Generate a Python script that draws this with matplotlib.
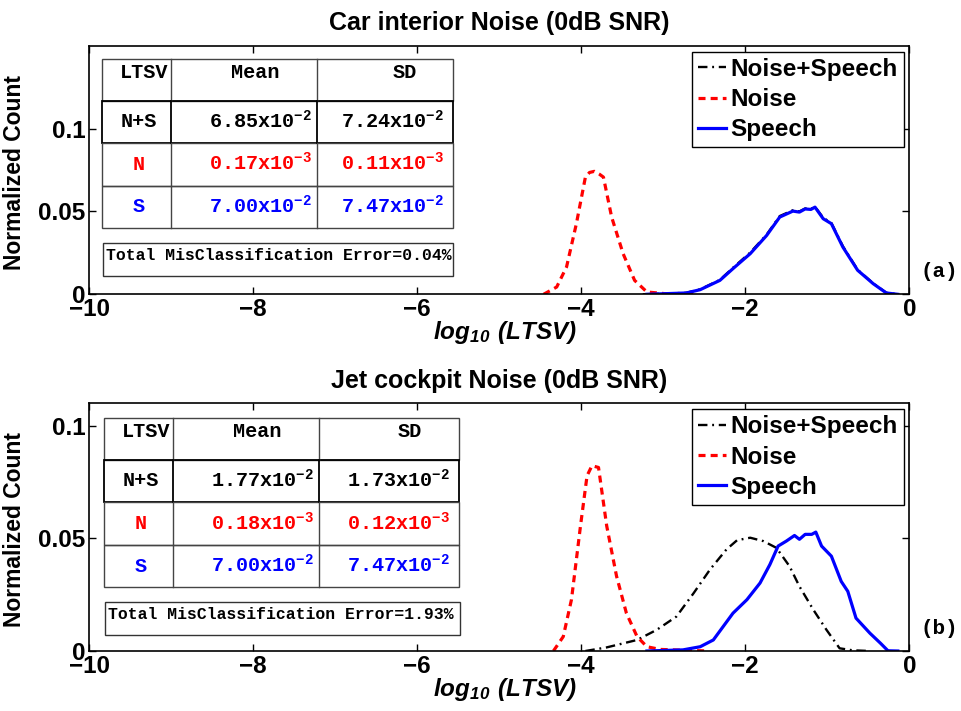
import matplotlib
matplotlib.use('Agg')
import matplotlib.pyplot as plt
from matplotlib.patches import Rectangle

plt.rcParams['font.family'] = 'Liberation Sans'
plt.rcParams['font.weight'] = 'bold'
plt.rcParams['mathtext.fontset'] = 'custom'
plt.rcParams['mathtext.rm'] = 'Liberation Mono:bold'
plt.rcParams['mathtext.sf'] = 'Liberation Sans:italic:bold'
plt.rcParams['mathtext.bf'] = 'Liberation Sans:bold'

# ---- data ----
# (a) car interior noise
car_noise_x = [-4.46, -4.30, -4.18, -4.06, -3.95, -3.90, -3.84, -3.78, -3.73, -3.63, -3.49, -3.35, -3.20, -2.96, -2.58]
car_noise_y = [0, 0.0044, 0.0165, 0.0426, 0.0707, 0.0735, 0.0742, 0.0725, 0.0707, 0.0466, 0.0245, 0.0084, 0.0014, 0.0003, 0]
car_speech_x = [-3.20, -2.72, -2.55, -2.31, -2.15, -1.94, -1.74, -1.58, -1.42, -1.34, -1.27, -1.20, -1.15, -1.05, -0.95, -0.81, -0.63, -0.44, -0.28, -0.14]
car_speech_y = [0, 0.0008, 0.0028, 0.0084, 0.0155, 0.0245, 0.0355, 0.0466, 0.0502, 0.0496, 0.0515, 0.0512, 0.0526, 0.0456, 0.0426, 0.0285, 0.0145, 0.0064, 0.0008, 0]
car_ns_x = [-3.25, -2.72, -2.55, -2.31, -2.15, -1.94, -1.74, -1.58, -1.42, -1.34, -1.27, -1.20, -1.15, -1.05, -0.95, -0.81, -0.63, -0.44, -0.28, -0.14]
car_ns_y = [0, 0.0009, 0.0030, 0.0087, 0.0160, 0.0252, 0.0360, 0.0472, 0.0507, 0.0500, 0.0518, 0.0515, 0.0528, 0.0462, 0.0430, 0.0290, 0.0148, 0.0066, 0.0009, 0]

# (b) jet cockpit noise
jet_noise_x = [-4.34, -4.22, -4.12, -4.01, -3.93, -3.87, -3.79, -3.69, -3.57, -3.45, -3.32, -3.20, -3.04, -2.72, -2.45]
jet_noise_y = [0, 0.0064, 0.0228, 0.0555, 0.0778, 0.0823, 0.0815, 0.0555, 0.0332, 0.0168, 0.0064, 0.0019, 0.0007, 0.0003, 0]
jet_ns_x = [-3.95, -3.69, -3.32, -3.08, -2.84, -2.63, -2.43, -2.23, -2.10, -1.94, -1.78, -1.62, -1.46, -1.34, -1.17, -1.01, -0.85, -0.69, -0.48]
jet_ns_y = [0, 0.0016, 0.0049, 0.0094, 0.0153, 0.0257, 0.0362, 0.0451, 0.0492, 0.0503, 0.0488, 0.0458, 0.0376, 0.0287, 0.0183, 0.0094, 0.0012, 0.0003, 0]
jet_speech_x = [-3.20, -2.76, -2.55, -2.39, -2.15, -1.98, -1.82, -1.70, -1.60, -1.50, -1.40, -1.34, -1.27, -1.19, -1.14, -1.07, -0.95, -0.83, -0.75, -0.65, -0.48, -0.35, -0.26, -0.14]
jet_speech_y = [0, 0.0005, 0.0019, 0.0049, 0.0168, 0.0228, 0.0302, 0.0384, 0.0466, 0.0488, 0.0513, 0.0496, 0.0518, 0.0518, 0.0528, 0.0466, 0.0421, 0.0309, 0.0265, 0.0146, 0.0079, 0.0034, 0.0001, 0]

titles = ['Car interior Noise (0dB SNR)', 'Jet cockpit Noise (0dB SNR)']
panel_tags = ['(a)', '(b)']
ylims = [0.15, 0.11]
row_names = ['N+S', 'N', 'S']
row_colors = ['black', 'red', 'blue']
car_table = [['6.85', '-2', '7.24', '-2'], ['0.17', '-3', '0.11', '-3'], ['7.00', '-2', '7.47', '-2']]
jet_table = [['1.77', '-2', '1.73', '-2'], ['0.18', '-3', '0.12', '-3'], ['7.00', '-2', '7.47', '-2']]
errors = ['Total MisClassification Error=0.04%', 'Total MisClassification Error=1.93%']

W, H = 962, 711
fig = plt.figure(figsize=(W / 100, H / 100), dpi=100)


def P(x, y):
    return (x / W, 1 - y / H)


def draw_table(x0, x1, c1, c2, rows_y, err_box, values, err_text):
    mono = 'Liberation Mono'
    # header + 3 rows, each its own box
    for i in range(4):
        ya, yb = rows_y[i], rows_y[i + 1]
        ec = 'black' if i == 1 else '#444444'
        lw = 1.3 if i == 1 else 1.0
        fig.add_artist(Rectangle(P(x0, yb), (x1 - x0) / W, (yb - ya) / H,
                                 transform=fig.transFigure, fill=False, ec=ec, lw=lw))
        for cx in (c1, c2):
            fig.add_artist(plt.Line2D([cx / W, cx / W], [1 - ya / H, 1 - yb / H],
                                      transform=fig.transFigure, color=ec, lw=lw))
    hy = rows_y[0] + 14
    fig.text(*P(c1 - 3, hy), 'LTSV', ha='right', va='center', family=mono, fontsize=14.5, weight='bold')
    fig.text(*P((c1 + c2) / 2 + 11, hy), 'Mean', ha='center', va='center', family=mono, fontsize=14.5, weight='bold')
    fig.text(*P((c2 + x1) / 2 + 20, hy), 'SD', ha='center', va='center', family=mono, fontsize=14.5, weight='bold')
    for i in range(3):
        ry = (rows_y[i + 1] + rows_y[i + 2]) / 2
        col = row_colors[i]
        fig.text(*P((x0 + c1) / 2 + 2, ry), row_names[i], ha='center', va='center', family=mono,
                 fontsize=14.5, weight='bold', color=col)
        m, me, s, se = values[i]
        fig.text(*P(c2 - 5, ry - 1), r'$\mathrm{%sx10^{%s}}$' % (m, me),
                 ha='right', va='center', fontsize=14.5, color=col)
        fig.text(*P(x1 - 9, ry - 1), r'$\mathrm{%sx10^{%s}}$' % (s, se),
                 ha='right', va='center', fontsize=14.5, color=col)
    ex0, ex1, ey0, ey1 = err_box
    fig.add_artist(Rectangle(P(ex0, ey1), (ex1 - ex0) / W, (ey1 - ey0) / H,
                             transform=fig.transFigure, fill=False, ec='#333333', lw=1.0))
    fig.text(*P(ex0 + 3, ey0 + 12), err_text, ha='left', va='center', family=mono,
             fontsize=11.8, weight='bold')


axes_px = [(45.7, 294.3), (403.3, 651.0)]
tables = [
    (101.7, 452.7, 171, 317.3, [59, 101, 142.7, 185.7, 227.7], (102.7, 453.3, 243.3, 276), car_table),
    (104, 459.3, 173.3, 319.3, [417.7, 460, 502, 545, 587.3], (105, 460, 602.3, 635), jet_table),
]
series = [
    ((car_ns_x, car_ns_y), (car_noise_x, car_noise_y), (car_speech_x, car_speech_y)),
    ((jet_ns_x, jet_ns_y), (jet_noise_x, jet_noise_y), (jet_speech_x, jet_speech_y)),
]

for k in range(2):
    top, bot = axes_px[k]
    ax = fig.add_axes([89.3 / W, 1 - bot / H, 820 / W, (bot - top) / H])
    ns, nz, sp = series[k]
    ax.plot(ns[0], ns[1], color='black', ls='-.', lw=1.7, dashes=(4, 2, 0.8, 2), label='Noise+Speech')
    ax.plot(nz[0], nz[1], color='red', ls='--', lw=2.3, dashes=(2.2, 1.6), label='Noise')
    ax.plot(sp[0], sp[1], color='blue', ls='-', lw=2.3, label='Speech')
    ax.set_xlim(-10, 0)
    ax.set_ylim(0, ylims[k])
    ax.set_xticks([-10, -8, -6, -4, -2, 0])
    ax.set_xticklabels(['\u221210', '\u22128', '\u22126', '\u22124', '\u22122', '0'])
    ax.set_yticks([0, 0.05, 0.1])
    ax.set_yticklabels(['0', '0.05', '0.1'])
    ax.tick_params(direction='in', length=5, width=1, top=True, right=True,
                   labelsize=17.5, pad=3, colors='black')
    for sp_ in ax.spines.values():
        sp_.set_linewidth(1.2)
    ax.set_title(titles[k], fontsize=18, fontweight='bold', pad=11)
    ax.set_ylabel('Normalized Count', fontsize=16.5, fontweight='bold')
    ax.yaxis.set_label_coords(-0.077, 0.49)
    ax.set_xlabel(r'$\mathsf{log_{10}\ (LTSV)}$', fontsize=17.5)
    ax.xaxis.set_label_coords(0.507, -0.10)
    leg = ax.legend(loc='upper right', bbox_to_anchor=(0.9935, 0.976), borderaxespad=0,
                    fontsize=17.5, handlelength=1.15, handletextpad=0.2, labelspacing=0.3,
                    borderpad=0.25, fancybox=False, framealpha=1, edgecolor='black')
    leg.get_frame().set_linewidth(1.0)
    t = tables[k]
    draw_table(t[0], t[1], t[2], t[3], t[4], t[5], t[6], errors[k])
    fig.text(*P(921, bot - 23), panel_tags[k], ha='left', va='center',
             family='Liberation Mono', fontsize=15, weight='bold')

fig.savefig('out.png', dpi=100)
